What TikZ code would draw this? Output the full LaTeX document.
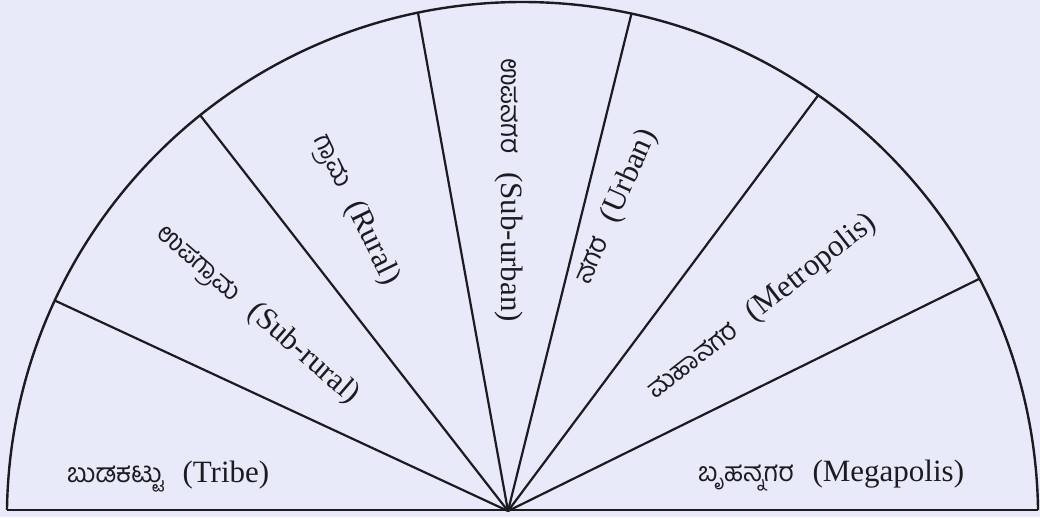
\documentclass[tikz,border=0pt]{standalone}
\usepackage{fontspec}
\usetikzlibrary{calc}
\setmainfont{Liberation Serif}
\newfontfamily\kn[Script=Kannada]{Hind Mysuru}
\definecolor{bgc}{RGB}{232,234,250}
\definecolor{ink}{RGB}{28,28,32}
\begin{document}
\begin{tikzpicture}[x=1pt,y=1pt,
  rim/.style={draw=ink,line width=2.4pt},
  ray/.style={draw=ink,line width=2.2pt},
  lab/.style={text=ink,font=\fontsize{31}{33}\selectfont,inner sep=0pt}]
\newcommand{\kl}[2]{{\kn\fontsize{26.5}{28}\selectfont #1}\hspace{0.6em}#2}
\fill[bgc] (0,0) rectangle (1040,517);
\useasboundingbox (0,0) rectangle (1040,517);
\coordinate (C) at (522.5,-0.6);
\coordinate (O) at (508,6);
\coordinate (L) at ($(C)+(179.15:515.6)$);
\coordinate (R) at ($(C)+(0.85:515.6)$);
\draw[rim] (L) arc[start angle=179.15,end angle=0.85,radius=515.6];
\draw[rim] (L) -- (R);
\foreach \a/\n in {155.1/r1,128.7/r2,101.7/r3,77.8/r4,55.0/r5,27.6/r6}{
  \coordinate (\n) at ($(C)+(\a:515.6)$);
  \draw[ray] (O) -- (\n);
}
\node[lab] (t1) at (168,40) {\kl{ಬುಡಕಟ್ಟು}{(Tribe)}};
\node[lab,rotate=-41] (t2) at (257,202) {\kl{ಉಪಗ್ರಾಮ}{(Sub-rural)}};
\node[lab,rotate=-64] (t3) at (355,307) {\kl{ಗ್ರಾಮ}{(Rural)}};
\node[lab,rotate=-90] (t4) at (509,327) {\kl{ಉಪನಗರ}{(Sub-urban)}};
\node[lab,rotate=66] (t5) at (616,310) {\kl{ನಗರ}{(Urban)}};
\node[lab,rotate=38] (t6) at (762,210) {\kl{ಮಹಾನಗರ}{(Metropolis)}};
\node[lab] (t7) at (831,41) {\kl{ಬೃಹನ್ನಗರ}{(Megapolis)}};
\end{tikzpicture}
\end{document}
